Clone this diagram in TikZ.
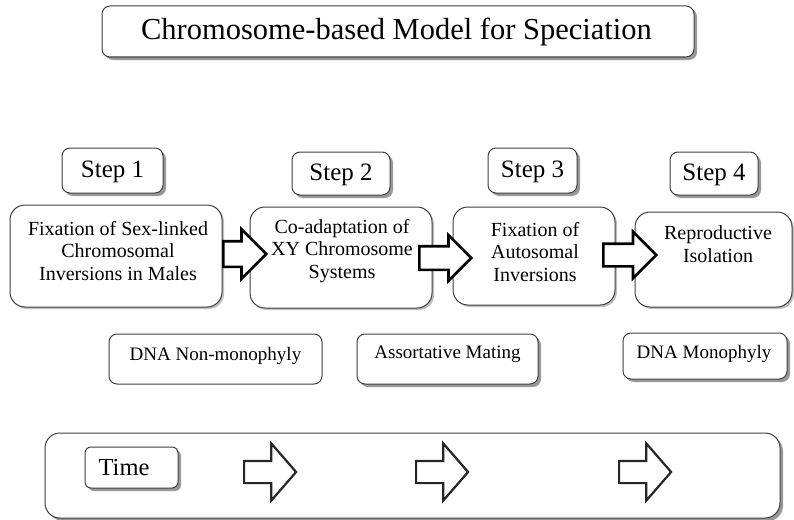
\documentclass[tikz,border=0pt]{standalone}
\usepackage{fontspec}
\setmainfont{Liberation Serif}
\usetikzlibrary{shadows,shapes.arrows}
\begin{document}
\begin{tikzpicture}[x=1pt,y=-1pt,
  rbox/.style={shape=rectangle, draw=black!75, line width=1pt, fill=white, rounded corners=#1, inner sep=0pt},
  shad/.style={drop shadow={shadow xshift=3pt, shadow yshift=-3pt, fill=black!40, opacity=1}},
  lshad/.style={drop shadow={shadow xshift=2pt, shadow yshift=-2pt, fill=black!25, opacity=1}},
  txt/.style={inner sep=0pt, align=center, text=black},
  steptxt/.style={txt, font=\fontsize{25}{30}\selectfont},
  maintxt/.style={txt, font=\fontsize{20}{22.5}\selectfont},
  lowtxt/.style={txt, font=\fontsize{19}{22}\selectfont},
  barrow/.style={single arrow, draw=black, line width=2.6pt, fill=white, inner xsep=0pt, anchor=west,
    single arrow tip angle=90, single arrow head indent=0pt},
  tarrow/.style={barrow, draw=black!85, line width=2.2pt, single arrow tip angle=98,
    minimum height=52pt, inner ysep=10pt, single arrow head extend=17.5pt},
]
\useasboundingbox (0,0) rectangle (794,519);

% title
\node[rbox=8pt, shad, minimum width=592pt, minimum height=51pt] (title) at (398,31.5) {};
\node[txt, font=\fontsize{30.5}{36}\selectfont] (titletxt) at (396.5,32) {Chromosome-based Model for Speciation};

% step labels
\node[rbox=8pt, shad, minimum width=101pt, minimum height=45pt] (s1) at (112.5,170.5) {};
\node[rbox=8pt, shad, minimum width=98pt, minimum height=43pt] (s2) at (341,173.5) {};
\node[rbox=8pt, shad, minimum width=89pt, minimum height=45pt] (s3) at (532.5,170.5) {};
\node[rbox=8pt, shad, minimum width=88pt, minimum height=43pt] (s4) at (714,173.5) {};
\node[steptxt] (s1t) at ([yshift=-1pt]s1) {Step 1};
\node[steptxt] (s2t) at ([yshift=-1pt]s2) {Step 2};
\node[steptxt] (s3t) at ([yshift=-1pt]s3) {Step 3};
\node[steptxt] (s4t) at ([yshift=-1pt]s4) {Step 4};

% main boxes
\node[rbox=15pt, lshad, minimum width=212pt, minimum height=102pt] (b1) at (116,256) {};
\node[rbox=15pt, lshad, minimum width=182pt, minimum height=101pt] (b2) at (341,257.5) {};
\node[rbox=15pt, lshad, minimum width=162pt, minimum height=98pt] (b3) at (534,256) {};
\node[rbox=15pt, lshad, minimum width=157pt, minimum height=95pt] (b4) at (713.5,259.5) {};
\node[maintxt] (b1t) at (118,251) {Fixation of Sex-linked\\Chromosomal\\Inversions in Males};
\node[maintxt] (b2t) at (342,251) {Co-adaptation of\\XY Chromosome\\Systems};
\node[maintxt] (b3t) at (535,252) {Fixation of\\Autosomal\\Inversions};
\node[maintxt] (b4t) at (718,244) {Reproductive\\Isolation};

% block arrows between main boxes
\node[barrow, minimum height=43pt, inner ysep=11.5pt, single arrow head extend=12pt] (a1) at (222,254) {};
\node[barrow, minimum height=52pt, inner ysep=10.5pt, single arrow head extend=11pt] (a2) at (418,258) {};
\node[barrow, minimum height=53pt, inner ysep=10pt, single arrow head extend=12pt] (a3) at (602,255) {};

% lower boxes
\node[rbox=8pt, minimum width=213pt, minimum height=50pt] (n1) at (215.5,359) {};
\node[rbox=8pt, shad, minimum width=181pt, minimum height=50pt] (n2) at (447.5,359) {};
\node[rbox=8pt, shad, minimum width=164pt, minimum height=46pt] (n3) at (705,356) {};
\node[lowtxt] (n1t) at (215.5,356) {DNA Non-monophyly};
\node[lowtxt] (n2t) at (447.5,354) {Assortative Mating};
\node[lowtxt] (n3t) at (704,354) {DNA Monophyly};

% time bar
\node[rbox=15pt, shad, minimum width=735pt, minimum height=85pt] (tbar) at (412.5,475.5) {};
\node[rbox=6pt, shad, minimum width=93pt, minimum height=41pt] (tbox) at (131.5,467.5) {};
\node[txt, font=\fontsize{24.5}{29}\selectfont] (ttxt) at (124,468) {Time};
\node[tarrow] (ta1) at (243,472) {};
\node[tarrow] (ta2) at (415,472) {};
\node[tarrow] (ta3) at (618,472) {};
\end{tikzpicture}
\end{document}
